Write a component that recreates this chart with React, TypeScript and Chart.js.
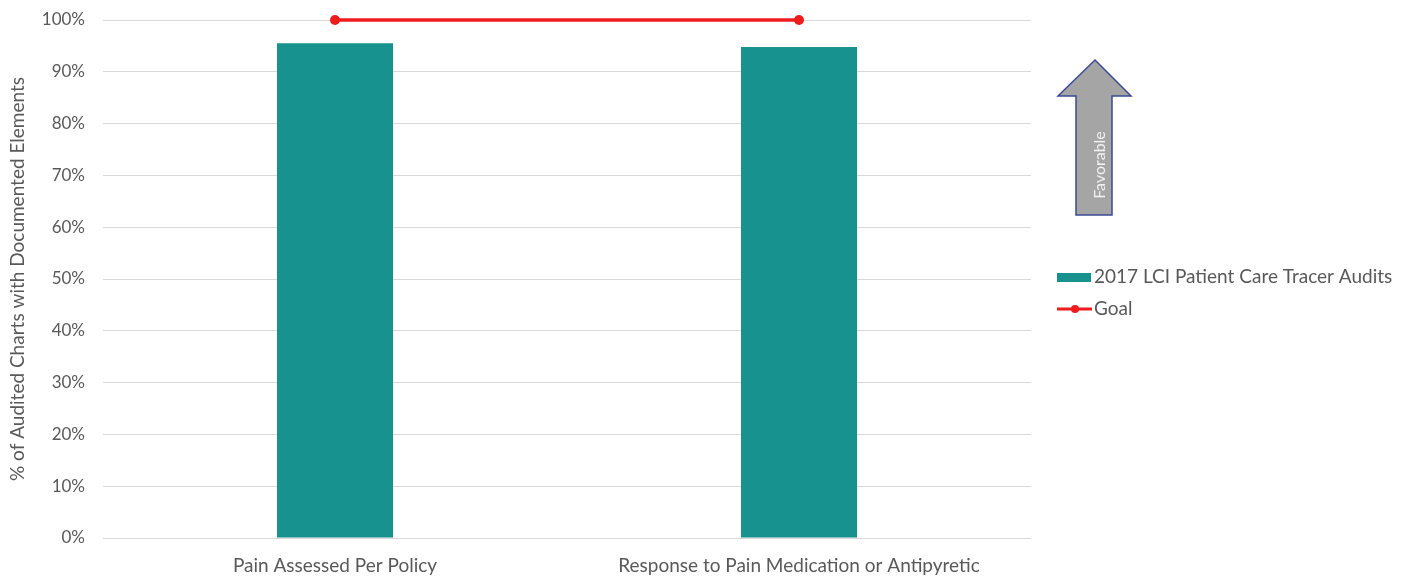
import React, { useEffect, useRef } from "react";
import { Chart, registerables } from "chart.js";

Chart.register(...registerables);

const categories = ["Pain Assessed Per Policy", "Response to Pain Medication or Antipyretic"];
const auditValues = [95.5, 94.8];
const goalValues = [100, 100];
const seriesNames = ["2017 LCI Patient Care Tracer Audits", "Goal"];
const yAxisTitle = "% of Audited Charts with Documented Elements";
const arrowLabel = "Favorable";

const FONT = "Lato, 'Open Sans', sans-serif";
const TEXT = "#595959";
const TEAL = "#17928e";
const RED = "#ee1c1c";

const overlayPlugin = {
  id: "overlay",
  afterDraw(chart: any) {
    const ctx = chart.ctx as CanvasRenderingContext2D;
    ctx.save();
    const ds = chart.data.datasets;
    ctx.font = `19px ${FONT}`;
    ctx.textBaseline = "middle";
    ctx.textAlign = "left";
    ctx.fillStyle = ds[0].backgroundColor;
    ctx.fillRect(1057, 273, 34, 9);
    ctx.fillStyle = TEXT;
    ctx.fillText(ds[0].label, 1094, 277);
    ctx.strokeStyle = ds[1].borderColor;
    ctx.lineWidth = 3;
    ctx.beginPath();
    ctx.moveTo(1057, 309);
    ctx.lineTo(1092, 309);
    ctx.stroke();
    ctx.fillStyle = ds[1].borderColor;
    ctx.beginPath();
    ctx.arc(1075, 309, 4, 0, Math.PI * 2);
    ctx.fill();
    ctx.fillStyle = TEXT;
    ctx.fillText(ds[1].label, 1094, 309);

    ctx.beginPath();
    ctx.moveTo(1095, 60);
    ctx.lineTo(1131, 96);
    ctx.lineTo(1112, 96);
    ctx.lineTo(1112, 215);
    ctx.lineTo(1076, 215);
    ctx.lineTo(1076, 96);
    ctx.lineTo(1058, 96);
    ctx.closePath();
    ctx.fillStyle = "#a5a5a5";
    ctx.fill();
    ctx.strokeStyle = "#3b4a96";
    ctx.lineWidth = 1.5;
    ctx.stroke();
    ctx.translate(1100, 165);
    ctx.rotate(-Math.PI / 2);
    ctx.font = `16px ${FONT}`;
    ctx.fillStyle = "#f2f2f2";
    ctx.textAlign = "center";
    ctx.textBaseline = "middle";
    ctx.fillText(arrowLabel, 0, 0);
    ctx.restore();
  },
};

export default function App() {
  const ref = useRef<HTMLCanvasElement | null>(null);
  useEffect(() => {
    if (!ref.current) return;
    const chart = new Chart(ref.current, {
      data: {
        labels: categories,
        datasets: [
          {
            type: "bar",
            label: seriesNames[0],
            data: auditValues,
            backgroundColor: TEAL,
            borderWidth: 0,
            categoryPercentage: 1,
            barPercentage: 0.25,
            order: 2,
          } as any,
          {
            type: "line",
            label: seriesNames[1],
            data: goalValues,
            borderColor: RED,
            backgroundColor: RED,
            borderWidth: 3.5,
            pointRadius: 5,
            pointBackgroundColor: RED,
            pointBorderWidth: 0,
            clip: false,
            order: 1,
          } as any,
        ],
      },
      options: {
        animation: false,
        responsive: true,
        maintainAspectRatio: false,
        layout: { padding: { top: 20, right: 378, left: 0, bottom: 0 } },
        plugins: {
          legend: { display: false },
          tooltip: { enabled: false },
        },
        scales: {
          x: {
            grid: { display: false, drawTicks: false },
            border: { display: false },
            ticks: { color: TEXT, font: { family: FONT, size: 19 }, padding: 16 },
            afterFit: (s: any) => {
              s.height = 43;
              s.paddingLeft = 0;
              s.paddingRight = 0;
            },
          },
          y: {
            min: 0,
            max: 100,
            ticks: {
              stepSize: 10,
              color: TEXT,
              font: { family: FONT, size: 17 },
              padding: 18,
              callback: (v: any) => `${v}%`,
            },
            grid: { color: "#d9d9d9", lineWidth: 1, drawTicks: false },
            border: { display: false },
            title: {
              display: true,
              text: yAxisTitle,
              color: TEXT,
              font: { family: FONT, size: 19 },
              padding: { top: 6, bottom: 0 },
            },
            afterFit: (s: any) => {
              s.width = 103;
              s.paddingTop = 0;
              s.paddingBottom = 0;
            },
          },
        },
      },
      plugins: [overlayPlugin],
    });
    return () => chart.destroy();
  }, []);
  return (
    <div style={{ position: "fixed", left: 0, top: 0, width: 1409, height: 581, background: "#fff" }}>
      <canvas ref={ref} />
    </div>
  );
}
